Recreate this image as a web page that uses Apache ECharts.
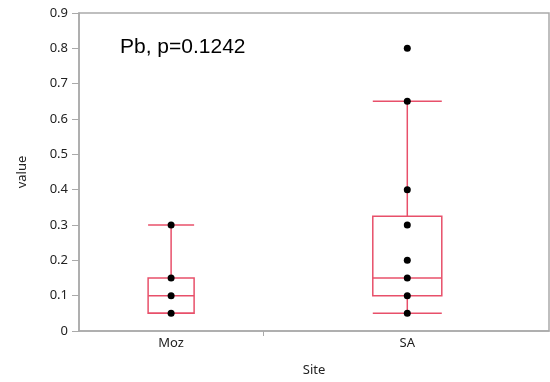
<!DOCTYPE html>
<html>
<head>
<meta charset="utf-8">
<script src="https://cdn.jsdelivr.net/npm/echarts@6/dist/echarts.min.js"></script>
<style>html,body{margin:0;padding:0;background:#fff}#c{width:550px;height:382px}</style>
</head>
<body>
<div id="c"></div>
<script>
// ---- data ----
const categories = ['Moz', 'SA'];
const categoryPos = [0, 1];
// [pos, low whisker, Q1, median, Q3, high whisker]
const boxStats = [
  [0, 0.05, 0.05, 0.10, 0.15, 0.30],
  [1, 0.05, 0.10, 0.15, 0.325, 0.65]
];
const mozPoints = [0.05, 0.10, 0.15, 0.30];
const saPoints = [0.05, 0.10, 0.15, 0.20, 0.30, 0.40, 0.65, 0.80];
const yTicks = [0, 0.1, 0.2, 0.3, 0.4, 0.5, 0.6, 0.7, 0.8, 0.9];
const annotation = 'Pb, p=0.1242';

// ---- styling ----
const BOX_PX = [46, 69];
const RED = '#e8506a';
const AX = '#aaaaaa';
const FONT = "'Noto Sans', sans-serif";

const chart = echarts.init(document.getElementById('c'));
const points = [];
mozPoints.forEach(v => points.push([categoryPos[0], v]));
saPoints.forEach(v => points.push([categoryPos[1], v]));

chart.setOption({
  animation: false,
  title: {
    text: annotation, left: 115, top: 32,
    textStyle: {fontFamily: "'Liberation Sans', Arial, sans-serif", fontSize: 21, fontWeight: 'normal', color: '#000'}
  },
  grid: {left: 79, right: 1, top: 13, bottom: 51, show: true, borderColor: AX, borderWidth: 1.5, backgroundColor: '#fff', outerBoundsMode: 'none', containLabel: false},
  xAxis: {
    type: 'value', min: -0.39, max: 1.6,
    name: 'Site', nameLocation: 'middle', nameGap: 33,
    nameTextStyle: {fontFamily: FONT, fontSize: 13, color: '#222'},
    axisLine: {show: true, onZero: false, lineStyle: {color: AX, width: 1.5}},
    splitLine: {show: false},
    axisTick: {show: true, customValues: [0.39], length: 5, lineStyle: {color: AX}},
    axisLabel: {customValues: categoryPos, formatter: v => categories[Math.round(v)], fontFamily: FONT, fontSize: 13, color: '#222', margin: 6}
  },
  yAxis: {
    type: 'value', min: 0, max: 0.9, interval: 0.1,
    name: 'value', nameLocation: 'middle', nameGap: 50,
    nameTextStyle: {fontFamily: FONT, fontSize: 13, color: '#222'},
    axisLine: {show: true, onZero: false, lineStyle: {color: AX, width: 1.5}},
    splitLine: {show: false},
    axisTick: {show: true, length: 7, lineStyle: {color: AX}},
    axisLabel: {fontFamily: FONT, fontSize: 13, color: '#222', margin: 11,
      formatter: v => { const t = yTicks.find(x => Math.abs(x - v) < 1e-9); return t === undefined ? '' : String(t); }}
  },
  series: [
    {
      type: 'custom',
      data: boxStats,
      encode: {x: 0, y: [1, 2, 3, 4, 5]},
      renderItem: function (params, api) {
        const x = api.value(0);
        const lo = api.coord([x, api.value(1)]);
        const q1 = api.coord([x, api.value(2)]);
        const md = api.coord([x, api.value(3)]);
        const q3 = api.coord([x, api.value(4)]);
        const hi = api.coord([x, api.value(5)]);
        const h = BOX_PX[params.dataIndex] / 2;
        const cx = lo[0];
        const st = {stroke: RED, lineWidth: 1.5, fill: null};
        return {
          type: 'group',
          children: [
            {type: 'line', shape: {x1: cx, y1: q3[1], x2: cx, y2: hi[1]}, style: st},
            {type: 'line', shape: {x1: cx, y1: q1[1], x2: cx, y2: lo[1]}, style: st},
            {type: 'line', shape: {x1: cx - h, y1: hi[1], x2: cx + h, y2: hi[1]}, style: st},
            {type: 'line', shape: {x1: cx - h, y1: lo[1], x2: cx + h, y2: lo[1]}, style: st},
            {type: 'rect', shape: {x: cx - h, y: q3[1], width: 2 * h, height: q1[1] - q3[1]}, style: st},
            {type: 'line', shape: {x1: cx - h, y1: md[1], x2: cx + h, y2: md[1]}, style: st}
          ]
        };
      },
      z: 2
    },
    {
      type: 'scatter', data: points, symbolSize: 7,
      itemStyle: {color: '#000', opacity: 1}, z: 3
    }
  ]
});
</script>
</body>
</html>
